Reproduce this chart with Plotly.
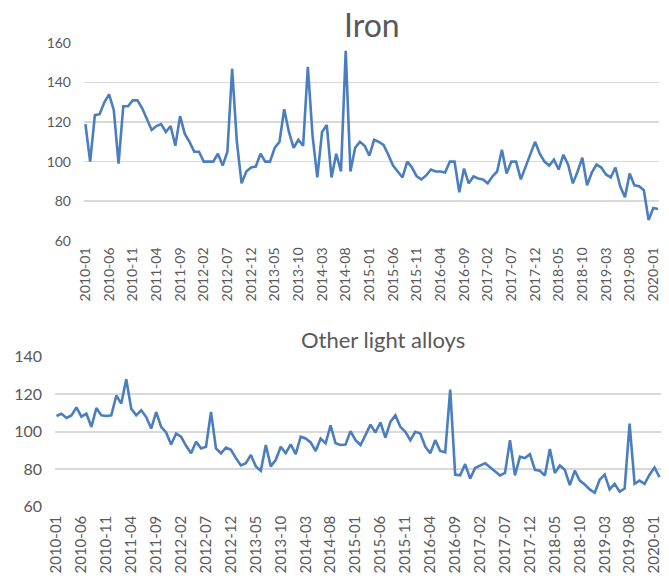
import plotly.graph_objects as go
import pandas as pd

months = pd.date_range("2010-01-01", periods=122, freq="MS").strftime("%Y-%m").tolist()

iron = [119, 100, 123.5, 124, 130, 134, 126, 99, 128, 128, 131, 131, 127, 121, 116, 118, 119, 115, 118, 108,
        123, 114, 110, 105, 105, 100, 100, 100, 104, 98, 105, 147, 110, 89, 95, 97, 97.5, 104, 100, 100,
        107, 110, 126.5, 115, 107, 111, 108, 148, 113, 92, 115, 118.5, 92, 104, 95, 156, 95, 107, 110, 108,
        103, 111, 110, 108.5, 103.5, 98, 95, 92, 100, 97, 92.5, 91, 93, 96, 95, 95, 94.5, 100, 100, 84.5,
        96.5, 89, 92.5, 91.5, 91, 89, 92.5, 95, 106, 94, 100, 100, 91, 97, 104, 110, 104, 100, 98, 101,
        96, 103.5, 98.5, 89, 95, 102, 88, 94.5, 98.5, 97, 93.5, 92, 97, 87.5, 82, 94, 88, 87.5, 85.5, 70.5,
        76.5, 76]

other_light_alloys = [108.4, 109.6, 107.3, 108.7, 113, 108, 109.6, 102.6, 112.6, 108.7, 108.4, 108.7, 119.3, 115,
                      128, 112.2, 108.7, 111.4, 107.8, 101.7, 110.5, 102.6, 99.6, 93.2, 99, 97.3, 92.5, 88.5,
                      94.7, 91.1, 92, 110.5, 91.1, 88.5, 91.5, 90.3, 85.9, 82, 83.2, 87.6, 81.5, 79.2, 92.9,
                      81.5, 85, 92, 88.5, 93.2, 88, 97.3, 96.4, 94.3, 89.7, 96.4, 93.8, 103.4, 93.8, 92.9, 93.2,
                      100.3, 95.5, 92.9, 98.2, 103.8, 99.6, 104.9, 96.8, 105.2, 108.7, 102.6, 99.9, 95.5, 99.9,
                      99, 92, 88.5, 95.5, 89.7, 89, 122.4, 77.1, 76.7, 82.7, 75, 80.6, 82, 83.2, 81, 78.8, 76.7,
                      78, 95.5, 76.7, 86.7, 85.9, 88, 79.7, 79.2, 76.6, 90.8, 78, 82, 79.7, 71.5, 79.2, 73.9,
                      71.8, 69.2, 67.4, 74.4, 77.1, 69.2, 72.2, 68, 69.7, 104.3, 72.2, 73.9, 72.2, 77.1, 80.9,
                      75.7]

titles = ["Iron", "Other light alloys"]
y_ticks_iron = [60, 80, 100, 120, 140, 160]
y_ticks_other = [60, 80, 100, 120, 140]

x_idx = list(range(len(months)))
tick_pos = x_idx[::5]
tick_txt = months[::5]

W, H = 669, 582
LINE = "#4a7ebf"
GRID = "#d9d9d9"
TXT = "#595959"
FONT = "Lato, 'Open Sans', sans-serif"

fig = go.Figure()
fig.add_trace(go.Scatter(x=x_idx, y=iron, mode="lines", line=dict(color=LINE, width=2.6),
                         xaxis="x", yaxis="y", showlegend=False))
fig.add_trace(go.Scatter(x=x_idx, y=other_light_alloys, mode="lines", line=dict(color=LINE, width=2.6),
                         xaxis="x2", yaxis="y2", showlegend=False))

def fx(px):
    return px / W

def fy(py):
    return 1 - py / H

common_x = dict(tickmode="array", tickvals=tick_pos, ticktext=tick_txt, tickangle=-90,
                showgrid=False, zeroline=False, showline=False, ticks="", automargin=False)
common_y = dict(showgrid=True, gridcolor=GRID, gridwidth=1.6, zeroline=False, showline=False,
                ticks="", tickmode="array", automargin=False)

fig.update_layout(
    width=W, height=H,
    autosize=False,
    margin=dict(l=0, r=0, t=0, b=0, pad=0),
    paper_bgcolor="white", plot_bgcolor="white",
    font=dict(family=FONT, color=TXT),
    xaxis=dict(domain=[fx(84), fx(659)], range=[-0.3, 121.2], anchor="y",
               tickfont=dict(size=14, color=TXT), ticklabelstandoff=3, **common_x),
    yaxis=dict(domain=[fy(240.7), fy(43)], range=[60, 160], anchor="x", tickvals=y_ticks_iron,
               tickfont=dict(size=14, color=TXT), ticklabelstandoff=12, **common_y),
    xaxis2=dict(domain=[fx(55), fx(661)], range=[-0.3, 121.3], anchor="y2",
                tickfont=dict(size=15, color=TXT), ticklabelstandoff=5, **common_x),
    yaxis2=dict(domain=[fy(506.7), fy(356.7)], range=[60, 140], anchor="x2", tickvals=y_ticks_other,
                tickfont=dict(size=16, color=TXT), ticklabelstandoff=12, **common_y),
    annotations=[
        dict(text=titles[0], x=fx(372), y=fy(25), xref="paper", yref="paper",
             xanchor="center", yanchor="middle", showarrow=False,
             font=dict(size=32, color=TXT, family=FONT)),
        dict(text=titles[1], x=fx(383), y=fy(339), xref="paper", yref="paper",
             xanchor="center", yanchor="middle", showarrow=False,
             font=dict(size=22, color=TXT, family=FONT)),
    ],
)

fig.write_html("out.html",
               config={"displayModeBar": False, "staticPlot": True},
               post_script="document.body.style.margin='0';document.body.style.overflow='hidden';")
